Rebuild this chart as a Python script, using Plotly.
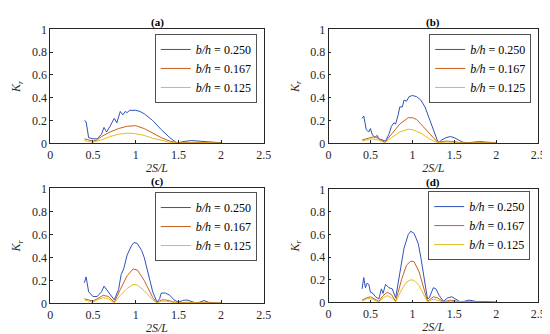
import plotly.graph_objects as go

# ---------------- data ----------------
series_names = ["b/h = 0.250", "b/h = 0.167", "b/h = 0.125"]
panel_titles = ["(a)", "(b)", "(c)", "(d)"]
x_ticks = [0, 0.5, 1, 1.5, 2, 2.5]
x_tick_labels = ["0", "0.5", "1", "1.5", "2", "2.5"]
y_ticks = [0, 0.2, 0.4, 0.6, 0.8, 1]
y_tick_labels = ["0", "0.2", "0.4", "0.6", "0.8", "1"]

# panel (a)
a_blue_x = [0.40, 0.42, 0.45, 0.50, 0.55, 0.60, 0.63, 0.66, 0.70, 0.75, 0.78, 0.82, 0.85, 0.88, 0.90, 0.93, 0.97, 1.00, 1.05, 1.10, 1.20, 1.30, 1.40, 1.47, 1.50, 1.55, 1.65, 1.75, 1.85, 1.90, 2.00]
a_blue_y = [0.20, 0.19, 0.05, 0.04, 0.04, 0.08, 0.14, 0.10, 0.15, 0.22, 0.18, 0.28, 0.25, 0.28, 0.27, 0.29, 0.29, 0.29, 0.28, 0.26, 0.20, 0.12, 0.05, 0.01, 0.005, 0.015, 0.025, 0.02, 0.015, 0.01, 0.005]
a_orange_x = [0.40, 0.45, 0.50, 0.55, 0.60, 0.70, 0.80, 0.90, 1.00, 1.10, 1.20, 1.30, 1.40, 1.50, 1.60, 1.70, 1.80, 1.90, 2.00]
a_orange_y = [0.04, 0.03, 0.02, 0.03, 0.06, 0.10, 0.13, 0.15, 0.155, 0.13, 0.09, 0.05, 0.02, 0.003, 0.006, 0.01, 0.008, 0.004, 0.003]
a_yellow_x = [0.40, 0.50, 0.60, 0.70, 0.80, 0.90, 1.00, 1.10, 1.20, 1.30, 1.40, 1.50, 1.60, 1.70, 1.80, 1.90, 2.00]
a_yellow_y = [0.025, 0.01, 0.03, 0.06, 0.08, 0.09, 0.085, 0.07, 0.045, 0.025, 0.01, 0.002, 0.004, 0.006, 0.005, 0.003, 0.002]

# panel (b)
b_blue_x = [0.40, 0.42, 0.45, 0.48, 0.50, 0.52, 0.55, 0.58, 0.60, 0.65, 0.68, 0.72, 0.75, 0.78, 0.80, 0.83, 0.85, 0.88, 0.90, 0.93, 0.96, 1.00, 1.05, 1.10, 1.15, 1.20, 1.25, 1.30, 1.32, 1.35, 1.40, 1.45, 1.50, 1.55, 1.60, 1.65, 1.70, 1.80, 1.90, 2.00]
b_blue_y = [0.22, 0.24, 0.12, 0.10, 0.13, 0.08, 0.05, 0.07, 0.04, 0.03, 0.02, 0.08, 0.15, 0.18, 0.17, 0.25, 0.32, 0.32, 0.38, 0.37, 0.41, 0.42, 0.41, 0.38, 0.32, 0.22, 0.12, 0.02, 0.01, 0.03, 0.05, 0.06, 0.05, 0.03, 0.01, 0.005, 0.01, 0.015, 0.01, 0.005]
b_orange_x = [0.40, 0.50, 0.55, 0.60, 0.67, 0.75, 0.85, 0.95, 1.00, 1.05, 1.15, 1.25, 1.30, 1.40, 1.50, 1.60, 1.70, 1.80, 2.00]
b_orange_y = [0.03, 0.05, 0.06, 0.04, 0.01, 0.08, 0.17, 0.225, 0.225, 0.21, 0.13, 0.05, 0.01, 0.02, 0.015, 0.003, 0.005, 0.007, 0.004]
b_yellow_x = [0.40, 0.50, 0.60, 0.67, 0.75, 0.85, 0.95, 1.00, 1.10, 1.20, 1.30, 1.40, 1.50, 1.60, 1.80, 2.00]
b_yellow_y = [0.02, 0.04, 0.03, 0.005, 0.05, 0.10, 0.125, 0.12, 0.09, 0.04, 0.005, 0.012, 0.01, 0.002, 0.004, 0.003]

# panel (c)
c_blue_x = [0.40, 0.42, 0.45, 0.50, 0.55, 0.60, 0.63, 0.65, 0.70, 0.75, 0.80, 0.83, 0.86, 0.90, 0.95, 0.98, 1.02, 1.07, 1.10, 1.15, 1.20, 1.25, 1.28, 1.30, 1.35, 1.40, 1.45, 1.50, 1.55, 1.60, 1.65, 1.70, 1.75, 1.80, 1.85, 1.90, 2.00]
c_blue_y = [0.18, 0.23, 0.10, 0.06, 0.06, 0.10, 0.15, 0.13, 0.07, 0.03, 0.12, 0.25, 0.30, 0.42, 0.50, 0.53, 0.52, 0.46, 0.40, 0.25, 0.10, 0.01, 0.04, 0.09, 0.09, 0.07, 0.03, 0.01, 0.025, 0.03, 0.02, 0.005, 0.01, 0.025, 0.01, 0.005, 0.003]
c_orange_x = [0.40, 0.45, 0.50, 0.55, 0.62, 0.68, 0.75, 0.82, 0.90, 0.97, 1.02, 1.10, 1.20, 1.25, 1.30, 1.35, 1.45, 1.50, 1.60, 1.70, 1.80, 2.00]
c_orange_y = [0.04, 0.03, 0.02, 0.04, 0.07, 0.06, 0.01, 0.12, 0.24, 0.30, 0.29, 0.20, 0.05, 0.005, 0.03, 0.03, 0.01, 0.003, 0.01, 0.003, 0.006, 0.002]
c_yellow_x = [0.40, 0.50, 0.55, 0.62, 0.68, 0.75, 0.82, 0.90, 0.97, 1.02, 1.10, 1.20, 1.25, 1.30, 1.35, 1.45, 1.50, 1.60, 1.80, 2.00]
c_yellow_y = [0.03, 0.01, 0.03, 0.05, 0.04, 0.005, 0.07, 0.13, 0.165, 0.16, 0.11, 0.03, 0.003, 0.02, 0.02, 0.005, 0.002, 0.006, 0.004, 0.001]

# panel (d)
d_blue_x = [0.40, 0.42, 0.44, 0.46, 0.48, 0.50, 0.53, 0.56, 0.60, 0.63, 0.65, 0.68, 0.72, 0.76, 0.80, 0.85, 0.90, 0.95, 0.98, 1.02, 1.07, 1.10, 1.15, 1.18, 1.20, 1.25, 1.28, 1.32, 1.37, 1.42, 1.47, 1.52, 1.57, 1.62, 1.67, 1.72, 1.77, 1.85, 1.90, 2.00]
d_blue_y = [0.12, 0.22, 0.13, 0.17, 0.16, 0.09, 0.08, 0.05, 0.03, 0.12, 0.08, 0.16, 0.13, 0.12, 0.04, 0.25, 0.48, 0.60, 0.63, 0.61, 0.52, 0.40, 0.15, 0.03, 0.04, 0.13, 0.12, 0.06, 0.01, 0.04, 0.05, 0.03, 0.005, 0.01, 0.02, 0.015, 0.005, 0.008, 0.005, 0.002]
d_orange_x = [0.40, 0.45, 0.50, 0.55, 0.60, 0.65, 0.70, 0.75, 0.80, 0.87, 0.93, 0.98, 1.02, 1.08, 1.15, 1.18, 1.25, 1.30, 1.37, 1.45, 1.50, 1.57, 1.65, 1.75, 2.00]
d_orange_y = [0.02, 0.04, 0.05, 0.03, 0.01, 0.06, 0.09, 0.07, 0.01, 0.20, 0.33, 0.365, 0.36, 0.27, 0.07, 0.01, 0.05, 0.04, 0.005, 0.02, 0.015, 0.002, 0.006, 0.003, 0.002]
d_yellow_x = [0.40, 0.45, 0.50, 0.55, 0.60, 0.65, 0.70, 0.75, 0.80, 0.87, 0.93, 0.98, 1.02, 1.08, 1.15, 1.18, 1.25, 1.30, 1.37, 1.45, 1.50, 1.57, 1.65, 2.00]
d_yellow_y = [0.01, 0.03, 0.035, 0.02, 0.005, 0.04, 0.06, 0.04, 0.005, 0.11, 0.18, 0.20, 0.195, 0.15, 0.04, 0.005, 0.03, 0.02, 0.003, 0.01, 0.008, 0.001, 0.003, 0.001]

panels = [
    [(a_blue_x, a_blue_y), (a_orange_x, a_orange_y), (a_yellow_x, a_yellow_y)],
    [(b_blue_x, b_blue_y), (b_orange_x, b_orange_y), (b_yellow_x, b_yellow_y)],
    [(c_blue_x, c_blue_y), (c_orange_x, c_orange_y), (c_yellow_x, c_yellow_y)],
    [(d_blue_x, d_blue_y), (d_orange_x, d_orange_y), (d_yellow_x, d_yellow_y)],
]

# ---------------- styling ----------------
W, H = 550, 334
colors = ["#2F52B8", "#C8601E", "#E3BE1C"]
FONT = "'Liberation Serif', 'Times New Roman', Times, serif"
INK = "#262626"

# axes boxes in pixels: (left, right, top, bottom)
boxes = [(40, 258, 15, 134), (324, 538, 15, 134), (40, 258, 181, 301), (324, 538, 182, 300)]
legend_pos = [(251, 20), (531, 20), (251, 185), (530, 184)]

fig = go.Figure()
layout = dict(
    width=W, height=H, margin=dict(l=0, r=0, t=0, b=0),
    paper_bgcolor="white", plot_bgcolor="white",
    font=dict(family=FONT, size=12, color=INK),
    annotations=[],
)

for i, (series, box) in enumerate(zip(panels, boxes)):
    ax = "" if i == 0 else str(i + 1)
    lg = "legend" if i == 0 else "legend" + str(i + 1)
    for j, (xs, ys) in enumerate(series):
        fig.add_trace(go.Scatter(
            x=xs, y=ys, mode="lines",
            line=dict(color=colors[j], width=1),
            name="<i>b/h</i> = " + series_names[j].split("= ")[1],
            xaxis="x" + ax, yaxis="y" + ax, legend=lg,
        ))
    l, r, t, b = box
    common = dict(showline=True, mirror=True, linecolor=INK, linewidth=0.8,
                  ticks="inside", ticklen=3, tickcolor=INK, showgrid=False,
                  zeroline=False, tickfont=dict(family=FONT, size=12, color=INK))
    layout["xaxis" + ax] = dict(
        domain=[l / W, r / W], anchor="y" + ax, range=[0, 2.5],
        tickvals=x_ticks, ticktext=x_tick_labels,
        title=dict(text="<i>2S/L</i>", font=dict(family=FONT, size=12, color=INK), standoff=2),
        **common)
    layout["yaxis" + ax] = dict(
        domain=[1 - b / H, 1 - t / H], anchor="x" + ax, range=[0, 1],
        tickvals=y_ticks, ticktext=y_tick_labels,
        title=dict(text="<i>K<sub>r</sub></i>", font=dict(family=FONT, size=12, color=INK), standoff=8),
        **common)
    lx, ly = legend_pos[i]
    layout[lg] = dict(
        x=lx / W, y=1 - ly / H, xanchor="right", yanchor="top",
        bgcolor="white", bordercolor=INK, borderwidth=0.8,
        font=dict(family=FONT, size=12, color="black"),
        tracegroupgap=0, itemwidth=30,
    )
    layout["annotations"].append(dict(
        text="<b>" + panel_titles[i] + "</b>", x=(l + r) / 2 / W, y=1 - t / H,
        xref="paper", yref="paper", xanchor="center", yanchor="bottom",
        showarrow=False, font=dict(family=FONT, size=11, color="black"), yshift=-2,
    ))

fig.update_layout(**layout)
fig.write_html("out.html")
